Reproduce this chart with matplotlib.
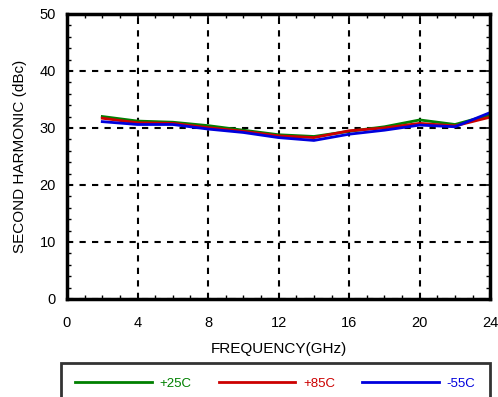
import matplotlib.pyplot as plt
from matplotlib.ticker import MultipleLocator

plt.rcParams["font.family"] = ["Liberation Sans", "DejaVu Sans"]

freq = [2, 4, 6, 8, 10, 12, 14, 16, 18, 20, 22, 24]
p25 = [32.0, 31.2, 31.0, 30.4, 29.6, 28.8, 28.5, 29.4, 30.2, 31.4, 30.6, 32.3]
p85 = [31.7, 30.9, 30.8, 30.05, 29.4, 28.6, 28.3, 29.5, 30.0, 30.8, 30.35, 31.9]
m55 = [31.1, 30.6, 30.6, 29.8, 29.2, 28.3, 27.8, 28.9, 29.6, 30.5, 30.2, 32.7]

series = [
    ("+25C", p25, "#008000"),
    ("+85C", p85, "#cc0000"),
    ("-55C", m55, "#0000dd"),
]

fig = plt.figure(figsize=(4.98, 3.97), dpi=100)
ax = fig.add_axes([0.1345, 0.247, 0.85, 0.718])

for label, vals, color in series:
    ax.plot(freq, vals, color=color, linewidth=2, label=label)

ax.set_xlim(0, 24)
ax.set_ylim(0, 50)
ax.xaxis.set_major_locator(MultipleLocator(4))
ax.xaxis.set_minor_locator(MultipleLocator(1))
ax.yaxis.set_major_locator(MultipleLocator(10))
ax.yaxis.set_minor_locator(MultipleLocator(2))
ax.tick_params(which="both", direction="in", top=True, right=True, labelsize=10.5)
ax.tick_params(which="major", length=4, width=1.2)
ax.tick_params(which="minor", length=3, width=1)
ax.tick_params(axis="x", which="major", pad=12)
ax.tick_params(axis="y", which="major", pad=8)
ax.grid(True, which="major", color="black", linestyle=(0, (3, 3)), linewidth=1.5)
for s in ax.spines.values():
    s.set_linewidth(2.5)

ax.set_xlabel("FREQUENCY(GHz)", fontsize=11, labelpad=9)
ax.set_ylabel("SECOND HARMONIC (dBc)", fontsize=11, labelpad=9)

leg = fig.legend(loc="upper left", mode="expand", ncol=3,
                 fontsize=9.5, handlelength=5.8, handletextpad=0.6,
                 borderpad=1.1, frameon=True, fancybox=False, borderaxespad=0,
                 labelcolor="linecolor")
leg.set_bbox_to_anchor((0.122, -0.1, 0.862, 0.186), transform=fig.transFigure)
leg.get_frame().set_edgecolor("black")
leg.get_frame().set_linewidth(2)

fig.savefig("out.png", dpi=100)
